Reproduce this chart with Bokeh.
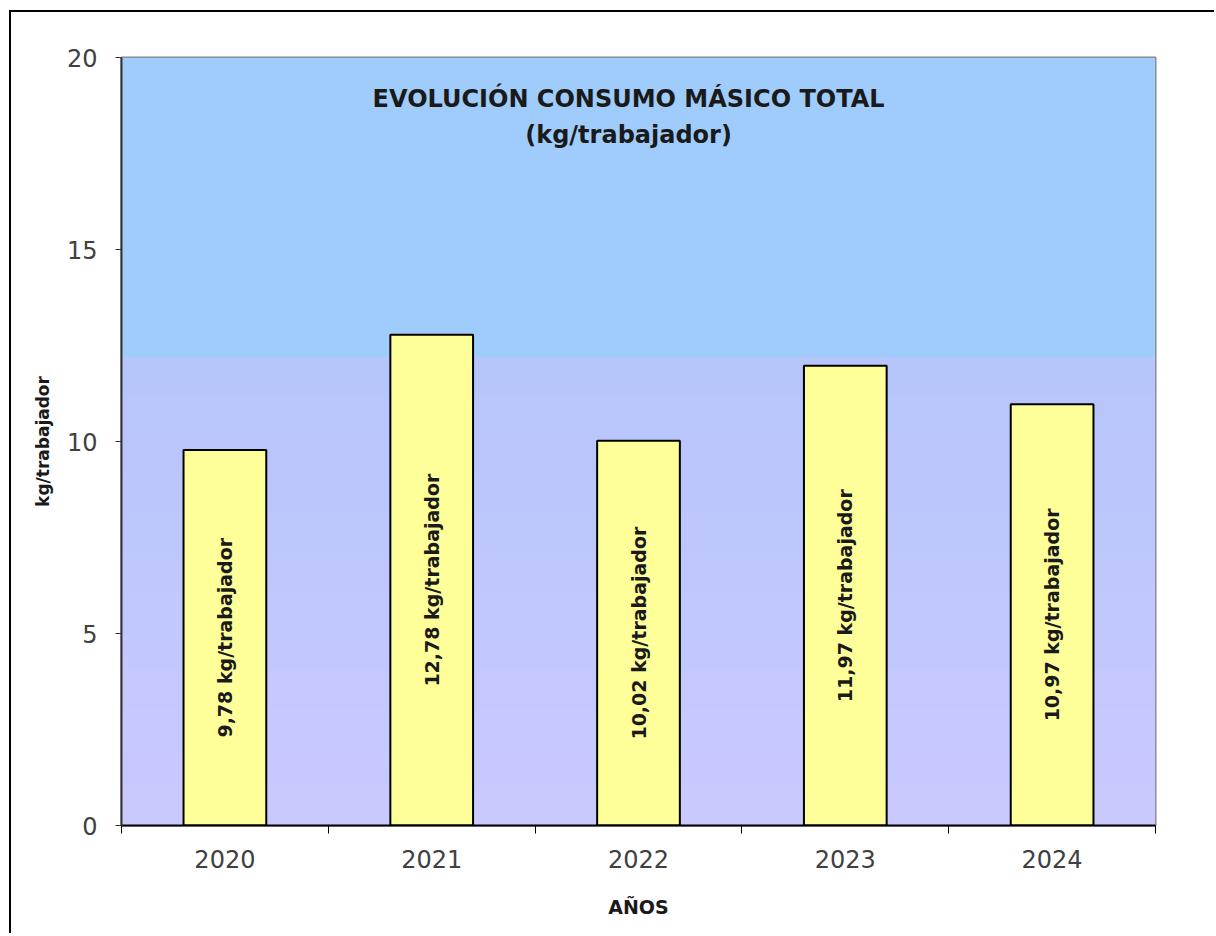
import numpy as np
from bokeh.plotting import figure
from bokeh.models import Range1d, FixedTicker, BoxAnnotation, Label, ColumnDataSource
from bokeh.core.properties import value
from bokeh.embed import file_html
from bokeh.resources import INLINE

# ---- data ----
years = ["2020", "2021", "2022", "2023", "2024"]
consumo = [9.78, 12.78, 10.02, 11.97, 10.97]
y_ticks = [0, 5, 10, 15, 20]
title_lines = ["EVOLUCIÓN CONSUMO MÁSICO TOTAL", "(kg/trabajador)"]
x_title = "AÑOS"
y_title = "kg/trabajador"
unit = "kg/trabajador"

FONT = "DejaVu Sans"

x = [i + 0.5 for i in range(len(years))]
labels = [f"{v:.2f}".replace(".", ",") + " " + unit for v in consumo]
src = ColumnDataSource(dict(x=x, top=consumo, mid=[v / 2 for v in consumo], label=labels))

p = figure(width=1205, height=923, output_backend="svg", toolbar_location=None,
           x_range=Range1d(0, len(years)), y_range=Range1d(y_ticks[0], y_ticks[-1]),
           min_border_left=110, min_border_right=61, min_border_top=45, min_border_bottom=110)
p.styles = {"border-left": "2px solid black", "border-top": "2px solid black",
            "margin-left": "9px", "margin-top": "10px"}
p.background_fill_color = "#C8C8FF"
p.border_fill_color = "white"
p.outline_line_color = "#808080"
p.outline_line_width = 2
p.grid.visible = False

# background: blue upper part, lavender gradient lower part
seam = 12.2
p.add_layout(BoxAnnotation(bottom=seam, top=20, fill_color="#9FCCFB", fill_alpha=1,
                           line_alpha=0, level="underlay"))
n = 12
c_top = np.array([182, 198, 251])
c_bot = np.array([202, 202, 255])
for i in range(n):
    b = seam * i / n
    t = seam * (i + 1) / n
    f = (i + 0.5) / n
    c = (c_bot * (1 - f) + c_top * f).astype(int)
    p.add_layout(BoxAnnotation(bottom=b, top=t, fill_color="#%02x%02x%02x" % tuple(c),
                               fill_alpha=1, line_alpha=0, level="underlay"))

p.vbar(x="x", top="top", bottom=0, width=0.4, fill_color="#FFFF99",
       line_color="black", line_width=2, source=src)
p.text(x="x", y="mid", text="label", angle=np.pi / 2, text_align="center",
       text_baseline="middle", text_font=value(FONT), text_font_style="bold",
       text_font_size="19px", text_color="#1a1a1a", source=src)

# x axis
xa = p.xaxis[0]
xa.ticker = FixedTicker(ticks=x, minor_ticks=list(range(len(years) + 1)))
xa.major_label_overrides = {xi: yr for xi, yr in zip(x, years)}
xa.major_tick_line_color = None
xa.major_tick_out = 0
xa.major_tick_in = 0
xa.minor_tick_out = 8
xa.minor_tick_in = 0
xa.minor_tick_line_color = "black"
xa.minor_tick_line_width = 1
xa.axis_line_color = "black"
xa.axis_line_width = 2
xa.major_label_standoff = 16
xa.major_label_text_font = FONT
xa.major_label_text_font_size = "24px"
xa.major_label_text_color = "#404040"
xa.axis_label = x_title
xa.axis_label_text_font = FONT
xa.axis_label_text_font_style = "bold"
xa.axis_label_text_font_size = "19px"
xa.axis_label_text_color = "#1a1a1a"
xa.axis_label_standoff = 25

# y axis
ya = p.yaxis[0]
ya.ticker = FixedTicker(ticks=y_ticks, minor_ticks=[])
ya.major_tick_out = 6
ya.major_tick_in = 0
ya.major_tick_line_color = "#333333"
ya.axis_line_color = "#333333"
ya.axis_line_width = 2
ya.major_label_standoff = 18
ya.major_label_text_font = FONT
ya.major_label_text_font_size = "24px"
ya.major_label_text_color = "#404040"
ya.axis_label = y_title
ya.axis_label_text_font = FONT
ya.axis_label_text_font_style = "bold"
ya.axis_label_text_font_size = "17px"
ya.axis_label_text_color = "#1a1a1a"
ya.axis_label_standoff = 11

# titles inside plot area
p.add_layout(Label(x=2.452, y=18.93, text=title_lines[0], text_align="center",
                   text_baseline="middle", text_font=FONT, text_font_style="bold",
                   text_font_size="24px", text_color="#1a1a1a"))
p.add_layout(Label(x=2.452, y=17.99, text=title_lines[1], text_align="center",
                   text_baseline="middle", text_font=FONT, text_font_style="bold",
                   text_font_size="24px", text_color="#1a1a1a"))

open("out.html", "w").write(file_html(p, INLINE))
